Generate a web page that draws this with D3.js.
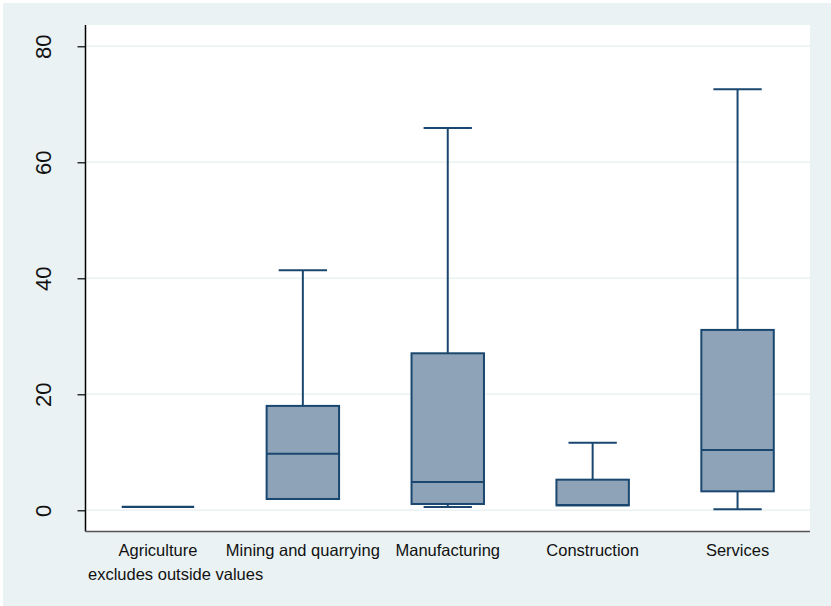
<!DOCTYPE html>
<html>
<head>
<meta charset="utf-8">
<script src="https://cdn.jsdelivr.net/npm/d3@7"></script>
<style>
  html, body { margin: 0; padding: 0; background: #ffffff; }
  svg { display: block; }
  text { font-family: "Liberation Sans", Arial, sans-serif; fill: #111; }
</style>
</head>
<body>
<svg id="chart" width="831" height="606"></svg>
<script>
// Sectors and their box-plot statistics (outside values excluded)
const categories = ["Agriculture", "Mining and quarrying", "Manufacturing", "Construction", "Services"];
const lowerWhisker = [0.6, 1.95, 0.57, 0.86, 0.17];
const q1           = [0.6, 1.95, 1.09, 0.86, 3.27];
const median       = [0.6, 9.75, 4.88, 0.9, 10.4];
const q3           = [0.6, 18.0, 27.07, 5.28, 31.1];
const upperWhisker = [0.6, 41.4, 65.9, 11.66, 72.6];
const yTicks = [0, 20, 40, 60, 80];
const note = "excludes outside values";

const boxes = categories.map((c, i) => ({
  name: c, lo: lowerWhisker[i], q1: q1[i], med: median[i], q3: q3[i], hi: upperWhisker[i]
}));

const svg = d3.select("#chart");
const W = 831, H = 606;
const plot = { left: 85.5, right: 810, top: 25, bottom: 531.5 };

// Outer graph region
svg.append("rect").attr("x", 3).attr("y", 3).attr("width", W - 3).attr("height", H - 3)
  .attr("fill", "#eaf2f3");
// Plot region
svg.append("rect").attr("x", plot.left).attr("y", plot.top)
  .attr("width", plot.right - plot.left).attr("height", plot.bottom - plot.top)
  .attr("fill", "#ffffff");

const x = d3.scaleBand().domain(categories).range([plot.left, plot.right]).padding(0);
const y = d3.scaleLinear().domain([0, 80]).range([510.3, 46.3]);

// Grid lines
svg.append("g").selectAll("line").data(yTicks).join("line")
  .attr("x1", plot.left + 1).attr("x2", plot.right)
  .attr("y1", d => y(d)).attr("y2", d => y(d))
  .attr("stroke", "#eaf2f3").attr("stroke-width", 1.6);

// Y axis with vertical tick labels
const yAxis = d3.axisLeft(y).tickValues(yTicks).tickSize(8).tickFormat(d3.format("d"));
const gy = svg.append("g").attr("transform", `translate(${plot.left},0)`).call(yAxis);
gy.select(".domain").attr("d", `M0,${plot.top}V${plot.bottom}`).attr("stroke", "#000").attr("stroke-width", 1.5);
gy.selectAll(".tick line").attr("stroke", "#000").attr("stroke-width", 1.2);
gy.selectAll(".tick text")
  .attr("font-size", 22).attr("fill", "#111")
  .attr("text-anchor", "middle")
  .attr("transform", "rotate(-90)")
  .attr("x", 0).attr("y", -42).attr("dy", "0.35em");

// X axis line
svg.append("line").attr("x1", plot.left).attr("x2", plot.right)
  .attr("y1", plot.bottom).attr("y2", plot.bottom)
  .attr("stroke", "#555").attr("stroke-width", 1.5);

// Category labels
svg.append("g").selectAll("text").data(categories).join("text")
  .attr("x", d => x(d) + x.bandwidth() / 2).attr("y", 556)
  .attr("text-anchor", "middle").attr("font-size", 16.5).text(d => d);

svg.append("text").attr("x", 88).attr("y", 580).attr("font-size", 16.5).text(note);

// Boxes
const stroke = "#1a476f";
const bw = x.bandwidth() / 2;
const cw = x.bandwidth() / 3;
const g = svg.append("g").selectAll("g").data(boxes).join("g")
  .attr("transform", d => `translate(${x(d.name) + x.bandwidth() / 2},0)`);

// upper whisker and cap
g.filter(d => d.hi > d.q3).append("line")
  .attr("x1", 0).attr("x2", 0).attr("y1", d => y(d.hi)).attr("y2", d => y(d.q3))
  .attr("stroke", stroke).attr("stroke-width", 2);
g.filter(d => d.hi > d.q3).append("line")
  .attr("x1", -cw / 2).attr("x2", cw / 2).attr("y1", d => y(d.hi)).attr("y2", d => y(d.hi))
  .attr("stroke", stroke).attr("stroke-width", 2);
// lower whisker and cap
g.filter(d => d.lo < d.q1).append("line")
  .attr("x1", 0).attr("x2", 0).attr("y1", d => y(d.q1)).attr("y2", d => y(d.lo))
  .attr("stroke", stroke).attr("stroke-width", 2);
g.filter(d => d.lo < d.q1).append("line")
  .attr("x1", -cw / 2).attr("x2", cw / 2).attr("y1", d => y(d.lo)).attr("y2", d => y(d.lo))
  .attr("stroke", stroke).attr("stroke-width", 2);

// box body
g.append("rect")
  .attr("x", -bw / 2).attr("width", bw)
  .attr("y", d => y(d.q3)).attr("height", d => Math.max(0, y(d.q1) - y(d.q3)))
  .attr("fill", "#8ea3b7").attr("stroke", stroke).attr("stroke-width", 2);

// median
g.append("line")
  .attr("x1", -bw / 2).attr("x2", bw / 2).attr("y1", d => y(d.med)).attr("y2", d => y(d.med))
  .attr("stroke", stroke).attr("stroke-width", 2.2);
</script>
</body>
</html>
